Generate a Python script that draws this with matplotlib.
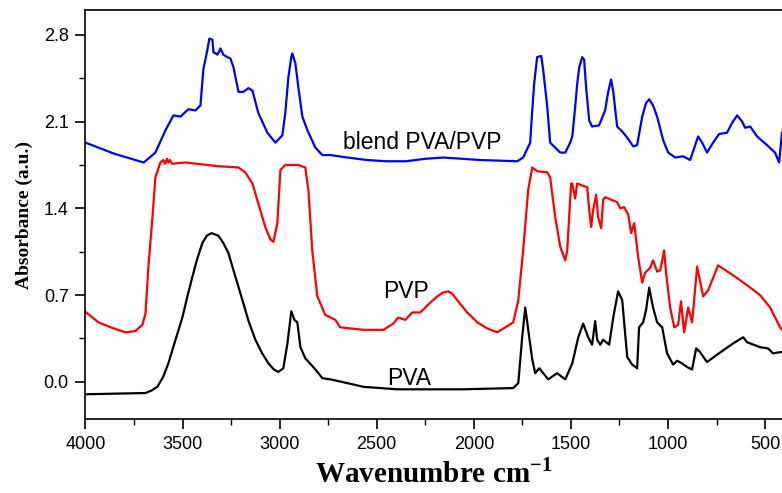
import matplotlib
matplotlib.use("Agg")
import matplotlib.pyplot as plt
from matplotlib.ticker import MultipleLocator

plt.rcParams["mathtext.fontset"] = "custom"
plt.rcParams["mathtext.rm"] = "Liberation Serif"
plt.rcParams["mathtext.bf"] = "Liberation Serif:bold"

# ---- data (wavenumber cm^-1, absorbance) ----
blend_wn = [4000, 3850, 3700, 3640, 3588, 3547, 3511, 3470, 3434, 3408, 3393, 3372, 3362, 3346, 3341,
            3320, 3305, 3290, 3269, 3254, 3238, 3212, 3187, 3161, 3140, 3110, 3063, 3022, 2986,
            2971, 2955, 2940, 2935, 2919, 2904, 2883, 2857, 2816, 2780, 2739, 2650, 2550, 2450,
            2350, 2250, 2157, 2060, 1967, 1870, 1777, 1746, 1710, 1700, 1689, 1674, 1653, 1643,
            1622, 1607, 1555, 1529, 1504,
            1493, 1478, 1468, 1457, 1442, 1432, 1422, 1406, 1391, 1355, 1324, 1308, 1293, 1282,
            1262, 1236, 1210, 1179, 1159, 1133, 1113, 1097, 1077, 1056, 1025, 999, 963, 922,
            886, 860, 845, 824, 799, 768, 737, 696, 670, 644, 618, 603, 577, 541, 490, 449,
            428, 413]
blend_abs = [1.93, 1.84, 1.77, 1.85, 2.03, 2.15, 2.14, 2.20, 2.19, 2.23, 2.52, 2.68, 2.77, 2.76, 2.66,
             2.64, 2.69, 2.64, 2.62, 2.61, 2.54, 2.34, 2.34, 2.37, 2.35, 2.17, 2.01, 1.93, 1.99,
             2.17, 2.46, 2.62, 2.65, 2.57, 2.38, 2.14, 2.03, 1.89, 1.83, 1.83, 1.81, 1.79, 1.78,
             1.78, 1.80, 1.81, 1.80, 1.79, 1.785, 1.78, 1.81, 1.93, 2.17, 2.41, 2.62, 2.63, 2.52,
             2.22, 1.93, 1.85, 1.85, 1.93,
             1.98, 2.22, 2.40, 2.54, 2.62, 2.60, 2.38, 2.11, 2.06, 2.07, 2.19, 2.34, 2.44, 2.34,
             2.06, 2.02, 1.97, 1.90, 1.91, 2.14, 2.25, 2.28, 2.23, 2.14, 1.95, 1.85, 1.81, 1.82,
             1.79, 1.91, 1.98, 1.93, 1.85, 1.93, 2.00, 2.01, 2.09, 2.15, 2.10, 2.05, 2.06, 1.98,
             1.91, 1.85, 1.77, 2.01]

pvp_wn = [4000, 3933, 3861, 3794, 3743, 3707, 3691, 3676, 3655, 3640, 3614, 3600, 3590, 3580,
          3573, 3565, 3555, 3485, 3316, 3212, 3177, 3140, 3110, 3074, 3048, 3032, 3012, 2996,
          2971, 2904, 2868, 2852, 2832, 2806, 2765, 2713, 2688, 2569, 2466, 2415, 2389, 2353,
          2317, 2276, 2224, 2188, 2160, 2132, 2110, 2096, 2060, 2034, 1982, 1930, 1879, 1838,
          1797, 1771, 1746, 1720,
          1699, 1674, 1622, 1607, 1581, 1555, 1529, 1519, 1514, 1499, 1493, 1478, 1468, 1416,
          1406, 1396, 1385, 1370, 1360, 1344, 1334, 1324, 1262, 1246, 1226, 1205, 1190, 1174,
          1154, 1133, 1118, 1092, 1077, 1056, 1040, 1020, 1010, 989, 968, 948, 933, 917, 896,
          876, 850, 819, 793, 742, 665, 593, 526, 474, 423, 413]
pvp_abs = [0.565, 0.48, 0.435, 0.40, 0.41, 0.46, 0.55, 0.93, 1.33, 1.65, 1.77, 1.79, 1.76, 1.80,
           1.77, 1.79, 1.76, 1.77, 1.74, 1.73, 1.69, 1.60, 1.44, 1.25, 1.15, 1.13, 1.28, 1.71,
           1.75, 1.75, 1.73, 1.55, 1.06, 0.69, 0.54, 0.50, 0.44, 0.42, 0.42, 0.47, 0.52, 0.50,
           0.56, 0.56, 0.64, 0.69, 0.72, 0.73, 0.71, 0.68, 0.61, 0.56, 0.48, 0.43, 0.40, 0.44,
           0.48, 0.66, 1.06, 1.55,
           1.73, 1.70, 1.69, 1.65, 1.33, 1.09, 0.98, 1.06, 1.20, 1.60, 1.60, 1.48, 1.60, 1.57,
           1.39, 1.25, 1.39, 1.51, 1.33, 1.24, 1.47, 1.49, 1.45, 1.40, 1.41, 1.35, 1.20, 1.28,
           1.01, 0.80, 0.88, 0.92, 0.98, 0.89, 0.90, 1.06, 0.88, 0.60, 0.44, 0.46, 0.65, 0.40,
           0.60, 0.48, 0.93, 0.69, 0.74, 0.94, 0.86, 0.78, 0.70, 0.60, 0.44, 0.42]

pva_wn = [4000, 3691, 3660, 3630, 3600, 3573, 3540, 3501, 3475, 3449, 3425, 3398, 3375, 3351, 3316,
          3290, 3264, 3230, 3192, 3160, 3125, 3090, 3058, 3030, 3007,
          2981, 2960, 2940, 2924, 2909, 2893, 2868, 2816, 2780, 2739, 2652, 2569, 2394, 2222,
          2054, 1797, 1771, 1751, 1735, 1720, 1699, 1684, 1663, 1617, 1571, 1529, 1493, 1462,
          1437, 1411, 1391, 1375, 1365, 1349, 1334, 1303, 1282, 1257, 1236, 1210, 1185, 1159,
          1149, 1128, 1113, 1097, 1077, 1056, 1030, 1005, 974, 953, 928, 902, 876, 855, 835,
          799, 747, 665, 613, 593, 526, 485, 459, 423, 413]
pva_abs = [-0.10, -0.09, -0.07, -0.04, 0.04, 0.15, 0.32, 0.52, 0.69, 0.85, 0.99, 1.12, 1.18, 1.20,
           1.18, 1.12, 1.04, 0.86, 0.66, 0.49, 0.34, 0.23, 0.15, 0.10, 0.08,
           0.11, 0.31, 0.57, 0.50, 0.48, 0.28, 0.19, 0.10, 0.03, 0.02, -0.01, -0.04, -0.06, -0.06,
           -0.06, -0.05, -0.01, 0.36, 0.60, 0.42, 0.18, 0.07, 0.11, 0.02, 0.07, 0.02, 0.15, 0.36,
           0.47, 0.36, 0.30, 0.49, 0.34, 0.30, 0.34, 0.30, 0.52, 0.73, 0.66, 0.20, 0.14, 0.11,
           0.44, 0.48, 0.58, 0.76, 0.60, 0.48, 0.44, 0.23, 0.14, 0.17, 0.15, 0.12, 0.10, 0.27, 0.24,
           0.16, 0.22, 0.31, 0.36, 0.32, 0.28, 0.27, 0.23, 0.24, 0.24]

labels = ["blend PVA/PVP", "PVP", "PVA"]
label_pos = [(2672, 1.93), (2466, 0.73), (2446, 0.03)]

x_ticks = [4000, 3500, 3000, 2500, 2000, 1500, 1000, 500]
y_ticks = [0.0, 0.7, 1.4, 2.1, 2.8]

# ---- figure ----
fig = plt.figure(figsize=(7.82, 4.93), dpi=100)
ax = fig.add_axes([0.1093, 0.150, 0.8907, 0.8296])

ax.plot(blend_wn, blend_abs, color="#0000ff", lw=1.6)
ax.plot(pvp_wn, pvp_abs, color="#ff0000", lw=1.6)
ax.plot(pva_wn, pva_abs, color="black", lw=1.6)

for txt, (x, y) in zip(labels, label_pos):
    ax.text(x, y, txt, fontsize=16.5, family="Liberation Sans", ha="left", va="center")

ax.set_xlim(4000, 413)
ax.set_ylim(-0.3, 3.0)
ax.set_xticks(x_ticks)
ax.set_yticks(y_ticks)
ax.set_yticklabels([f"{v:.1f}" for v in y_ticks])
ax.xaxis.set_minor_locator(MultipleLocator(250))
ax.yaxis.set_minor_locator(MultipleLocator(0.35))
ax.tick_params(which="major", direction="out", length=7, width=1.2, labelsize=13, pad=5)
ax.tick_params(which="minor", direction="out", length=4, width=1.0)
for lab in ax.get_xticklabels() + ax.get_yticklabels():
    lab.set_family("Liberation Sans")
ax.spines["right"].set_visible(False)
for s in ["left", "bottom", "top"]:
    ax.spines[s].set_linewidth(1.2)

ax.set_xlabel("Wavenumbre cm$^{\\mathbf{-1}}$", family="Liberation Serif", fontweight="bold",
              fontsize=21, labelpad=4)
ax.set_ylabel("Absorbance (a.u.)", family="Liberation Serif", fontweight="bold", fontsize=14,
              labelpad=8)

fig.savefig("out.png", dpi=100)
